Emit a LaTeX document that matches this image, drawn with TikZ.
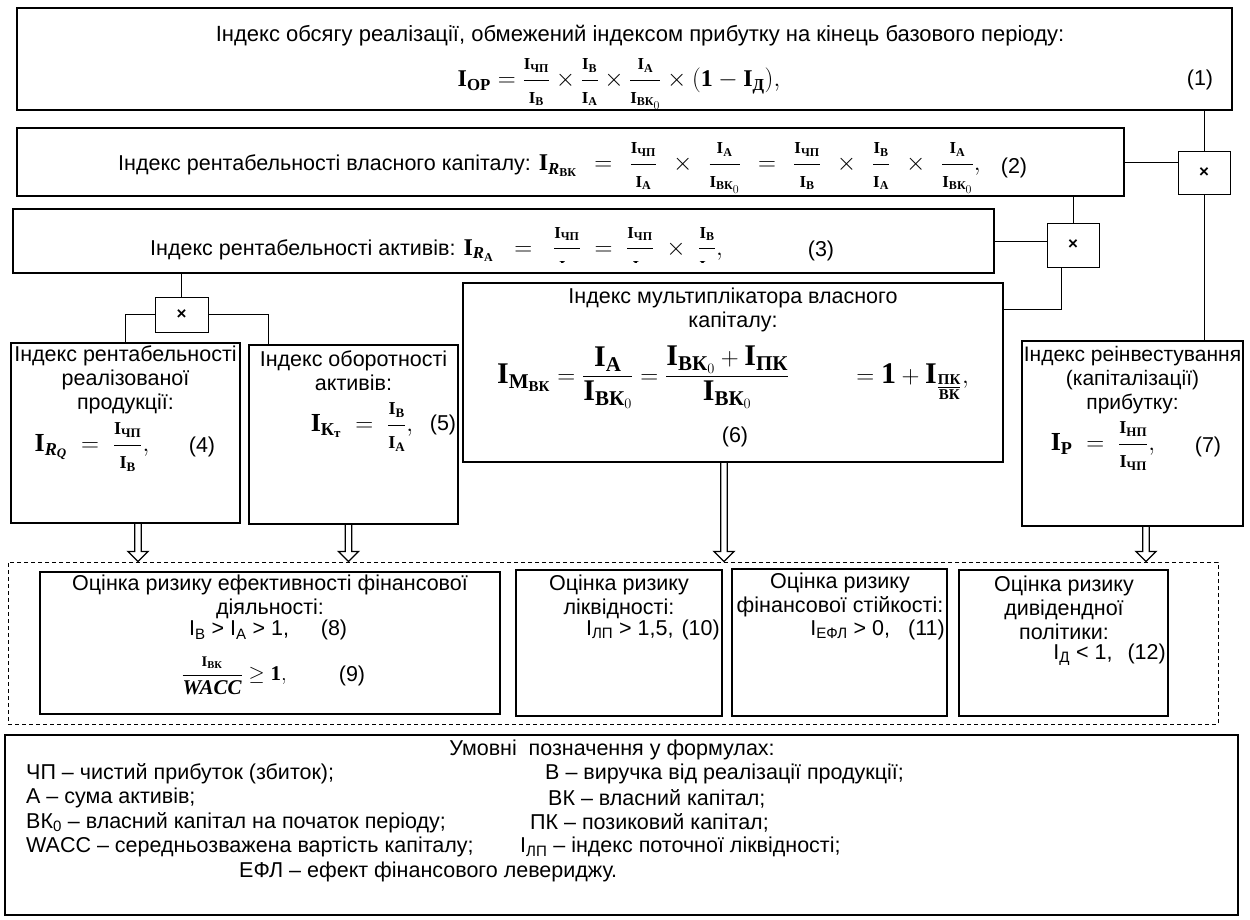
\documentclass[tikz,border=0pt]{standalone}
\usepackage{amsmath}
\usepackage{fontspec}
\setmainfont{Liberation Serif}
\setsansfont{Liberation Sans}
\usetikzlibrary{calc}
\newcommand{\Ib}{\textbf{\rmfamily I}}
\newcommand{\sbf}[1]{\text{\rmfamily\bfseries #1}}
\newcommand{\sbi}[1]{\text{\rmfamily\bfseries\itshape #1}}
\newcommand{\sfr}[2]{\dfrac{\scriptstyle #1}{\scriptstyle #2}}
\newcommand{\gp}{\mskip7.5mu}
\newcommand{\bt}{\sffamily\fontsize{21.5}{24}\selectfont}
\newcommand{\lt}{\sffamily\fontsize{21.5}{24.4}\selectfont}
\newcommand{\fm}[1]{\fontsize{#1}{#1}\selectfont}
\newcommand{\cbox}[6][box]{\node[#1, minimum width={(#5-#3)*1pt}, minimum height={(#6-#4)*1pt}] (#2) at ({(#3+#5)/2},{(#4+#6)/2}) {};}
\newcommand{\harrow}[2]{\draw[harr] ($(#1)+(-3.3,0)$) -- ($(#2)+(-3.3,-10)$) -- ($(#2)+(-10,-10)$) -- (#2) -- ($(#2)+(10,-10)$) -- ($(#2)+(3.3,-10)$) -- ($(#1)+(3.3,0)$);}
\tikzset{
  box/.style={draw, line width=1.6pt, inner sep=0pt},
  thinbox/.style={draw, line width=0.9pt, inner sep=0pt},
  legbox/.style={draw, line width=1.1pt, inner sep=0pt},
  dashbox/.style={draw, dash pattern=on 4pt off 3pt, line width=0.9pt, inner sep=0pt},
  conn/.style={line width=0.9pt},
  txt/.style={inner sep=0pt, font=\bt, align=center},
  fml/.style={inner sep=0pt, font=\bt},
  mult/.style={inner sep=0pt, font=\sffamily\bfseries\fontsize{17}{17}\selectfont},
  leg/.style={inner sep=0pt, font=\lt, anchor=west},
  harr/.style={line width=1.3pt, line join=miter},
}
\begin{document}
\begin{tikzpicture}[x=1pt,y=-1pt]
\useasboundingbox (0,0) rectangle (1250,919);
% boxes
\cbox{box1}{17}{8}{1232}{110}
\cbox{box2}{17}{128}{1124}{196}
\cbox{box3}{13}{209}{994}{273}
\cbox[thinbox]{xR}{1178}{151}{1230}{194}
\cbox[thinbox]{xM}{1047}{223}{1099}{267}
\cbox[thinbox]{xL}{155}{297}{208}{332}
\cbox{box4}{11}{343}{240}{523}
\cbox{box5}{249}{345}{458}{524}
\cbox{box6}{463}{283}{1003}{462}
\cbox{box7}{1022}{341}{1243}{526}
\cbox[dashbox]{risk}{8}{562}{1218}{724}
\cbox{r1}{40}{572}{500}{714}
\cbox{r2}{516}{570}{722}{716}
\cbox{r3}{732}{569}{947}{716}
\cbox{r4}{959}{570}{1168}{716}
\cbox[legbox]{legend}{5}{735}{1238}{915}
\node[mult] (xRt) at (xR) {×};
\node[mult] (xMt) at (xM) {×};
\node[mult] (xLt) at (xL) {×};
% box 1
\node[txt, font=\sffamily\fontsize{22}{24}\selectfont] (t1) at (640,36) {Індекс обсягу реалізації, обмежений індексом прибутку на кінець базового періоду:};
\begin{scope}
\clip ([xshift=1pt,yshift=1pt]box1.south west) rectangle (box1.north east);
\node[fml] (f1) at (619,84) {\fm{24}$\Ib_{\sbf{ОР}} = \sfr{\Ib_{\sbf{ЧП}}}{\Ib_{\sbf{В}}} \times \sfr{\Ib_{\sbf{В}}}{\Ib_{\sbf{А}}} \times \sfr{\Ib_{\sbf{А}}}{\Ib_{\sbf{ВК}_0}} \times (\mathbf{1} - \Ib_{\sbf{Д}}),$};
\end{scope}
\node[txt] (n1) at (1200,80) {(1)};
% box 2
\begin{scope}
\clip ([xshift=1pt,yshift=1pt]box2.south west) rectangle (box2.north east);
\node[fml, anchor=west] (t2) at (118,168) {Індекс рентабельності власного капіталу: \fm{24}$\Ib_{\sbi{R}_{\sbf{ВК}}} \gp=\gp \sfr{\Ib_{\sbf{ЧП}}}{\Ib_{\sbf{А}}} \gp\times\gp \sfr{\Ib_{\sbf{А}}}{\Ib_{\sbf{ВК}_0}} \gp=\gp \sfr{\Ib_{\sbf{ЧП}}}{\Ib_{\sbf{В}}} \gp\times\gp \sfr{\Ib_{\sbf{В}}}{\Ib_{\sbf{А}}} \gp\times\gp \sfr{\Ib_{\sbf{А}}}{\Ib_{\sbf{ВК}_0}},$};
\end{scope}
\node[txt] (n2) at (1014,168) {(2)};
% box 3
\begin{scope}
\clip ([xshift=1pt,yshift=11pt]box3.south west) rectangle (box3.north east);
\node[fml, anchor=west] (t3) at (150,251) {Індекс рентабельності активів: \fm{24}$\Ib_{\sbi{R}_{\sbf{А}}} \;\;=\;\; \sfr{\Ib_{\sbf{ЧП}}}{\Ib_{\sbf{А}}} \;=\; \sfr{\Ib_{\sbf{ЧП}}}{\Ib_{\sbf{В}}} \;\times\; \sfr{\Ib_{\sbf{В}}}{\Ib_{\sbf{А}}},$};
\end{scope}
\node[txt] (n3) at (821,251) {(3)};
% box 4
\node[txt] (t4) at (125.5,380) {Індекс рентабельності\\реалізованої\\продукції:};
\node[fml] (f4) at (92,447) {\fm{26}$\Ib_{\sbi{R}_{\sbi{Q}}} \;=\; \sfr{\Ib_{\sbf{ЧП}}}{\Ib_{\sbf{В}}},$};
\node[txt] (n4) at (202,447) {(4)};
% box 5
\node[txt] (t5) at (353.5,371) {Індекс оборотності\\активів:};
\node[fml] (f5) at (362,427) {\fm{26}$\Ib_{\sbf{К}_{\sbf{т}}} \;=\; \sfr{\Ib_{\sbf{В}}}{\Ib_{\sbf{А}}},$};
\node[txt] (n5) at (443,425) {(5)};
% box 6
\node[txt] (t6) at (733,310) {Індекс мультиплікатора власного\\капіталу:};
\node[fml] (f6) at (733,377) {\fm{30}$\Ib_{\sbf{М}_{\sbf{ВК}}} = \dfrac{\Ib_{\sbf{А}}}{\Ib_{\sbf{ВК}_0}} = \dfrac{\Ib_{\sbf{ВК}_0} + \Ib_{\sbf{ПК}}}{\Ib_{\sbf{ВК}_0}} \qquad = \mathbf{1} + \Ib_{\frac{\sbf{ПК}}{\sbf{ВК}}},$};
\node[txt] (n6) at (735,437) {(6)};
% box 7
\node[txt, font=\sffamily\fontsize{21}{24}\selectfont] (t7) at (1132.5,380) {Індекс реінвестування\\(капіталізації)\\прибутку:};
\node[fml] (f7) at (1103,446) {\fm{26}$\Ib_{\sbf{Р}} \;=\; \sfr{\Ib_{\sbf{НП}}}{\Ib_{\sbf{ЧП}}},$};
\node[txt] (n7) at (1208,447) {(7)};
% connectors
\draw[conn] (xR.north) -- (xR.north |- box1.south);
\draw[conn] (box2.east) -- (box2.east -| xR.west);
\draw[conn] (xM.north) -- (xM.north |- box2.south);
\draw[conn] (box3.east) -- (box3.east -| xM.west);
\draw[conn] ([xshift=-12pt]xM.south) |- ([yshift=-27pt]box6.north east);
\draw[conn] (xR.south) -- (xR.south |- box7.north);
\draw[conn] (xL.north) -- (xL.north |- box3.south);
\draw[conn] (xL.west) -| (box4.north);
\draw[conn] (xL.east) -| ([xshift=20pt]box5.north west);
% hollow arrows
\coordinate (a4s) at ([xshift=12.5pt]box4.south);
\coordinate (a4e) at (a4s |- risk.north);
\coordinate (a5s) at ([xshift=-5pt]box5.south);
\coordinate (a5e) at (a5s |- risk.north);
\coordinate (a6s) at ([xshift=-9pt]box6.south);
\coordinate (a6e) at (a6s |- risk.north);
\coordinate (a7s) at ([xshift=13.5pt]box7.south);
\coordinate (a7e) at (a7s |- risk.north);
\harrow{a4s}{a4e}
\harrow{a5s}{a5e}
\harrow{a6s}{a6e}
\harrow{a7s}{a7e}
% risk boxes
\node[txt] (r1a) at (270,597) {Оцінка ризику ефективності фінансової\\діяльності:};
\node[txt, anchor=west] (r1b) at (189,630) {I\textsubscript{В} > I\textsubscript{А} > 1,};
\node[txt] (n8) at (334,630) {(8)};
\node[fml] (r1c) at (234,676) {\fm{21}$\dfrac{\scriptstyle\Ib_{\sbf{ВК}}}{\textbf{\rmfamily\itshape WACC}} \geq \mathbf{1},$};
\node[txt] (n9) at (352,676) {(9)};
\node[txt] (r2a) at (619,597) {Оцінка ризику\\ліквідності:};
\node[txt, anchor=east] (r2b) at (720,630) {I\textsubscript{ЛП} > 1,5,\hspace{8pt}(10)};
\node[txt] (r3a) at (840,595) {Оцінка ризику\\фінансової стійкості:};
\node[txt, anchor=east] (r3b) at (945,630) {I\textsubscript{ЕФЛ} > 0,\hspace{18pt}(11)};
\node[txt] (r4a) at (1064,608) {Оцінка ризику\\дивідендної\\політики:};
\node[txt, anchor=east] (r4b) at (1166,655) {I\textsubscript{Д} < 1,\hspace{15pt}(12)};
% legend
\node[inner sep=0pt, font=\lt] (lg0) at (612,750) {Умовні\ \ позначення у формулах:};
\node[leg] (lg1a) at (26,774) {ЧП – чистий прибуток (збиток);};
\node[leg] (lg1b) at (545,774) {В – виручка від реалізації продукції;};
\node[leg] (lg2a) at (26,798.4) {А – сума активів;};
\node[leg] (lg2b) at (548,798.4) {ВК – власний капітал;};
\node[leg] (lg3a) at (26,822.8) {ВК\textsubscript{0} – власний капітал на початок періоду;};
\node[leg] (lg3b) at (530,822.8) {ПК – позиковий капітал;};
\node[leg] (lg4a) at (26,847.2) {WACC – середньозважена вартість капіталу;};
\node[leg] (lg4b) at (520,847.2) {I\textsubscript{ЛП} – індекс поточної ліквідності;};
\node[leg] (lg5) at (239,871.6) {ЕФЛ – ефект фінансового левериджу.};
\end{tikzpicture}
\end{document}
